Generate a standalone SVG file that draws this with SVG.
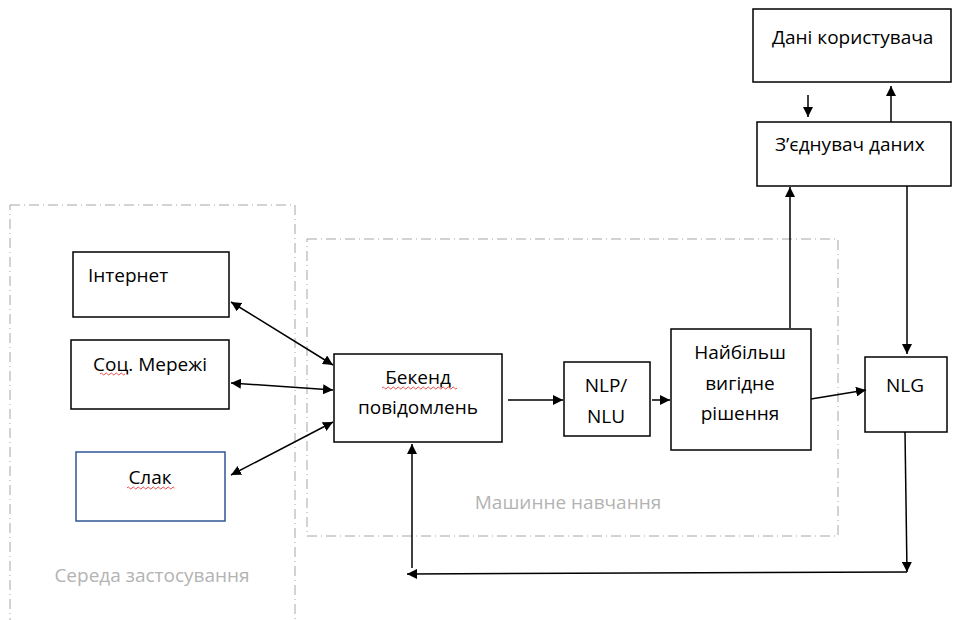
<svg xmlns="http://www.w3.org/2000/svg" width="953" height="620" viewBox="0 0 953 620">
<style>
.box{fill:#fff;stroke:#000;stroke-width:1.5}
.t{font-family:"Open Sans","Noto Sans","Liberation Sans",sans-serif;font-size:19px;fill:#000}
.g{font-family:"Open Sans","Noto Sans","Liberation Sans",sans-serif;font-size:19px;fill:#b3b3b3}
.area{fill:none;stroke:#a6a6a6;stroke-width:1;stroke-dasharray:10 4 1 4}
.c{fill:none;stroke:#000;stroke-width:1.5}
.sq{fill:none;stroke:#e02020;stroke-width:0.8}
</style>
<defs>
<marker id="ah" viewBox="0 0 10 10" refX="10" refY="5" markerWidth="10" markerHeight="10" markerUnits="userSpaceOnUse" orient="auto-start-reverse">
<path d="M0,0 L10,5 L0,10 Z" fill="#000"/>
</marker>
</defs>
<g id="area-env">
<rect class="area" x="10" y="205" width="285" height="430"/>
<text class="g" x="152" y="582" text-anchor="middle">Середа застосування</text>
</g>
<g id="area-ml">
<rect class="area" x="307" y="239" width="531" height="297"/>
<text class="g" x="568" y="509" text-anchor="middle">Машинне навчання</text>
</g>
<g id="internet">
<rect class="box" x="73" y="252" width="156" height="65"/>
<text class="t" x="88" y="282">Інтернет</text>
</g>
<g id="social">
<rect class="box" x="71" y="340" width="158" height="69"/>
<text class="t" x="150" y="371" text-anchor="middle">Соц. Мережі</text>
<path class="sq" d="M100,374 q1.25,-2 2.5,0 t2.5,0 t2.5,0 t2.5,0 t2.5,0 t2.5,0 t2.5,0 t2.5,0 t2.5,0 t2.5,0"/>
</g>
<g id="slack">
<rect x="76" y="452" width="149" height="69" fill="#fff" stroke="#2f5597" stroke-width="1.5"/>
<text class="t" x="150" y="484" text-anchor="middle">Слак</text>
<path class="sq" d="M127,488 q1.25,-2 2.5,0 t2.5,0 t2.5,0 t2.5,0 t2.5,0 t2.5,0 t2.5,0 t2.5,0 t2.5,0 t2.5,0 t2.5,0 t2.5,0 t2.5,0 t2.5,0 t2.5,0 t2.5,0 t2.5,0 t2.5,0 t2.5,0"/>
</g>
<g id="backend">
<rect class="box" x="334" y="354" width="168" height="88"/>
<text class="t" x="418" y="384" text-anchor="middle">Бекенд</text>
<text class="t" x="418" y="414" text-anchor="middle">повідомлень</text>
<path class="sq" d="M382,388 q1.25,-2 2.5,0 t2.5,0 t2.5,0 t2.5,0 t2.5,0 t2.5,0 t2.5,0 t2.5,0 t2.5,0 t2.5,0 t2.5,0 t2.5,0 t2.5,0 t2.5,0 t2.5,0 t2.5,0 t2.5,0 t2.5,0 t2.5,0 t2.5,0 t2.5,0 t2.5,0 t2.5,0 t2.5,0 t2.5,0 t2.5,0 t2.5,0 t2.5,0 t2.5,0 t2.5,0"/>
</g>
<g id="nlp">
<rect class="box" x="564" y="362" width="86" height="74"/>
<text class="t" x="606" y="392" text-anchor="middle">NLP/</text>
<text class="t" x="606" y="423" text-anchor="middle">NLU</text>
</g>
<g id="decision">
<rect class="box" x="671" y="329" width="140" height="121"/>
<text class="t" x="740" y="359" text-anchor="middle">Найбільш</text>
<text class="t" x="740" y="390" text-anchor="middle">вигідне</text>
<text class="t" x="740" y="420" text-anchor="middle">рішення</text>
</g>
<g id="userdata">
<rect class="box" x="753" y="9" width="198" height="73"/>
<text class="t" x="772" y="44">Дані користувача</text>
</g>
<g id="connector">
<rect class="box" x="757" y="122" width="194" height="64"/>
<text class="t" x="775" y="151">З’єднувач даних</text>
</g>
<g id="nlg">
<rect class="box" x="865" y="357" width="82" height="75"/>
<text class="t" x="905" y="392" text-anchor="middle">NLG</text>
</g>
<g id="connectors">
<line class="c" x1="231" y1="302" x2="333" y2="365" marker-start="url(#ah)" marker-end="url(#ah)"/>
<line class="c" x1="231" y1="383" x2="333" y2="390" marker-start="url(#ah)" marker-end="url(#ah)"/>
<line class="c" x1="231" y1="475" x2="333" y2="422" marker-start="url(#ah)" marker-end="url(#ah)"/>
<line class="c" x1="508" y1="400" x2="563" y2="400" marker-end="url(#ah)"/>
<line class="c" x1="652" y1="400" x2="670" y2="400" marker-end="url(#ah)"/>
<line class="c" x1="790" y1="328" x2="790" y2="187" marker-end="url(#ah)"/>
<line class="c" x1="811" y1="399" x2="866" y2="390" marker-end="url(#ah)"/>
<line class="c" x1="808" y1="95" x2="808" y2="117" marker-end="url(#ah)"/>
<line class="c" x1="891" y1="122" x2="891" y2="86" marker-end="url(#ah)"/>
<line class="c" x1="907" y1="186" x2="907" y2="354" marker-end="url(#ah)"/>
<line class="c" x1="905" y1="432" x2="907" y2="572" marker-end="url(#ah)"/>
<line class="c" x1="907" y1="572" x2="407" y2="574" marker-end="url(#ah)"/>
<line class="c" x1="412" y1="568" x2="412" y2="444" marker-end="url(#ah)"/>
</g>
</svg>
